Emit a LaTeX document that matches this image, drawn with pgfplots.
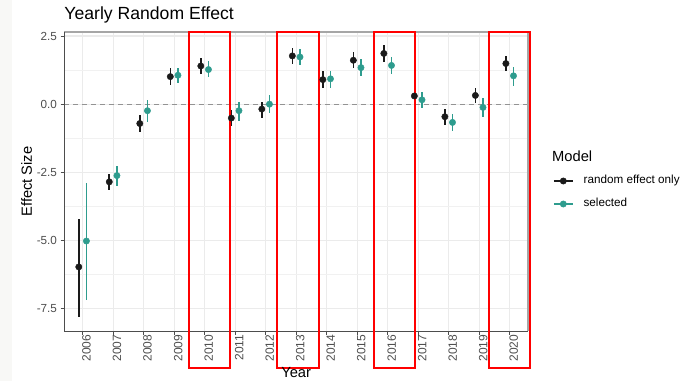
\documentclass[border=0pt]{standalone}
\usepackage{fontspec}
\setmainfont{Liberation Sans}
\usepackage{pgfplots}
\pgfplotsset{compat=1.18}
\usepackage{pgfplotstable}
\definecolor{teal1}{HTML}{2E9C8E}
\definecolor{blk}{HTML}{1A1A1A}
\definecolor{tickgray}{HTML}{4D4D4D}
\definecolor{gridgray}{HTML}{EBEBEB}
\definecolor{bordergray}{HTML}{A6A6A6}
\definecolor{stripgray}{HTML}{F8F8F6}

\pgfplotstableread{
x y lo hi
-0.125 -5.97 -7.82 -4.22
0.875 -2.85 -3.15 -2.56
1.875 -0.71 -1.01 -0.40
2.875 1.01 0.72 1.31
3.875 1.40 1.11 1.70
4.875 -0.51 -0.81 -0.22
5.875 -0.18 -0.49 0.08
6.875 1.77 1.49 2.06
7.875 0.90 0.61 1.21
8.875 1.61 1.32 1.90
9.875 1.86 1.55 2.16
10.875 0.30 0.01 0.60
11.875 -0.46 -0.76 -0.17
12.875 0.32 0.03 0.61
13.875 1.49 1.20 1.78
}\blacktab

\pgfplotstableread{
x y lo hi
0.125 -5.02 -7.18 -2.88
1.125 -2.62 -2.99 -2.27
2.125 -0.24 -0.65 0.15
3.125 1.06 0.76 1.34
4.125 1.27 0.98 1.58
5.125 -0.24 -0.61 0.08
6.125 0.00 -0.32 0.33
7.125 1.73 1.45 2.01
8.125 0.93 0.61 1.22
9.125 1.34 1.04 1.64
10.125 1.42 1.09 1.73
11.125 0.16 -0.14 0.45
12.125 -0.67 -0.98 -0.37
13.125 -0.12 -0.46 0.22
14.125 1.04 0.68 1.38
}\tealtab

\begin{document}
\begin{tikzpicture}
\begin{axis}[
  name=ax,
  scale only axis,
  width=463.7pt, height=299pt,
  xmin=-0.6, xmax=14.6,
  ymin=-8.32, ymax=2.647,
  clip=false,
  axis line style={draw=none},
  xtick={0,...,14},
  xticklabels={2006,2007,2008,2009,2010,2011,2012,2013,2014,2015,2016,2017,2018,2019,2020},
  ytick={-7.5,-5,-2.5,0,2.5},
  yticklabels={-7.5,-5.0,-2.5,0.0,2.5},
  minor ytick={-6.25,-3.75,-1.25,1.25},
  tick pos=left,
  tick align=outside,
  major tick length=3.6pt,
  minor tick length=0pt,
  tick style={color=tickgray, line width=0.8pt},
  xticklabel style={rotate=90, anchor=east, font=\fontsize{12}{12}\selectfont, text=tickgray, inner sep=0pt, yshift=-4pt},
  yticklabel style={anchor=east, font=\fontsize{11.7}{12}\selectfont, text=tickgray, inner sep=0pt, xshift=-3.5pt},
  grid=both,
  major grid style={color=gridgray, line width=1.1pt},
  minor grid style={color=gridgray!70, line width=0.6pt},
  xlabel={Year},
  xlabel style={at={(axis description cs:0.5,0)}, anchor=base, inner sep=0pt, yshift=-47pt, font=\fontsize{14.7}{15}\selectfont},
  legend style={at={(axis description cs:1,0.5)}, anchor=west, xshift=25pt, yshift=-11pt,
    draw=none, fill=none, inner sep=0pt, outer sep=0pt,
    column sep=10pt, row sep=12pt,
    nodes={inner sep=0pt, text height=8.5pt, text depth=2.5pt, anchor=west, font=\fontsize{11.7}{12}\selectfont}},
  legend cell align=left,
]
% faint left strip of the screenshot
\fill[stripgray] ([shift={(-64.3pt,-50pt)}]rel axis cs:0,0) rectangle ([shift={(-52.3pt,32pt)}]rel axis cs:0,1);

% zero reference line
\addplot[forget plot, color=gray!85, dash pattern=on 4.5pt off 4.5pt, line width=1pt] coordinates {(-0.6,0) (14.6,0)};

\addplot[forget plot, only marks, mark=*, mark size=3.2pt, color=blk,
  error bars/.cd, y dir=both, y explicit, error mark=none,
  error bar style={line width=1.6pt, color=blk}]
  table[x=x, y=y, y error plus expr=\thisrow{hi}-\thisrow{y}, y error minus expr=\thisrow{y}-\thisrow{lo}] {\blacktab};

\addplot[forget plot, only marks, mark=*, mark size=3.2pt, color=teal1,
  error bars/.cd, y dir=both, y explicit, error mark=none,
  error bar style={line width=1.6pt, color=teal1}]
  table[x=x, y=y, y error plus expr=\thisrow{hi}-\thisrow{y}, y error minus expr=\thisrow{y}-\thisrow{lo}] {\tealtab};

\addlegendimage{legend image code/.code={\draw[line width=1.6pt, blk] (0pt,0pt) -- (19pt,0pt); \fill[blk] (9.5pt,0pt) circle (3.2pt);}}
\addlegendentry{random effect only}
\addlegendimage{legend image code/.code={\draw[line width=1.6pt, teal1] (0pt,0pt) -- (19pt,0pt); \fill[teal1] (9.5pt,0pt) circle (3.2pt);}}
\addlegendentry{selected}

% panel border
\draw[bordergray, line width=1.1pt] (rel axis cs:0,1) -- (rel axis cs:1,1) -- (rel axis cs:1,0);
\draw[tickgray, line width=0.9pt] (rel axis cs:0,1) -- (rel axis cs:0,0) -- (rel axis cs:1,0);

% red highlight boxes
\draw[red, line width=1.8pt] (axis cs:3.49,2.647) rectangle (axis cs:4.84,-9.68);
\draw[red, line width=1.8pt] (axis cs:6.38,2.647) rectangle (axis cs:7.74,-9.68);
\draw[red, line width=1.8pt] (axis cs:9.55,2.647) rectangle (axis cs:10.90,-9.68);
\draw[red, line width=1.8pt] (axis cs:13.33,2.647) rectangle (axis cs:14.67,-9.68);

% titles
\node[anchor=base west, inner sep=0pt, font=\fontsize{17.6}{18}\selectfont] at ([yshift=12.1pt]rel axis cs:0,1) {Yearly Random Effect};
\node[rotate=90, anchor=base, inner sep=0pt, font=\fontsize{14.7}{15}\selectfont] at ([xshift=-32.3pt]rel axis cs:0,0.5) {Effect Size};
\node[anchor=base west, inner sep=0pt, font=\fontsize{14.7}{15}\selectfont] at ([shift={(24pt,-129.2pt)}]rel axis cs:1,1) {Model};
\end{axis}
\pgfresetboundingbox
\path[use as bounding box] ([shift={(-64.3pt,-50pt)}]ax.south west) rectangle ([shift={(153pt,32pt)}]ax.north east);
\end{tikzpicture}
\end{document}
